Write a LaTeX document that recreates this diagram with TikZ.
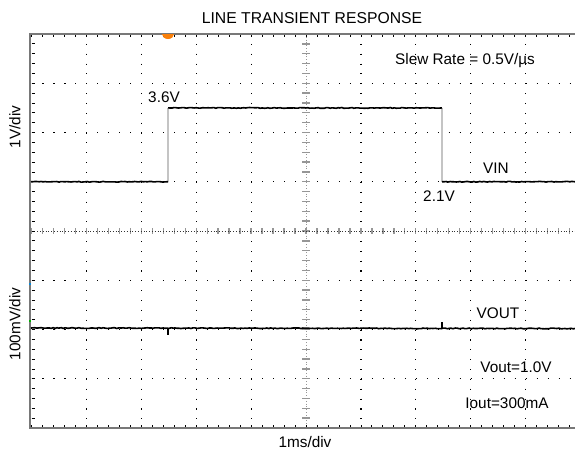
\documentclass[tikz,border=0pt]{standalone}
\usepackage{fontspec}
\setmainfont{Liberation Sans}
\usetikzlibrary{decorations.pathmorphing}
\definecolor{framegray}{RGB}{120,120,120}
\definecolor{edgegray}{RGB}{196,196,196}
\definecolor{tickgray}{RGB}{150,150,150}
\definecolor{trigorange}{RGB}{250,128,10}

\begin{document}
\begin{tikzpicture}[x=0.75pt, y=-0.75pt,
    frame/.style={framegray, line width=1.5pt},
    hdots/.style={black, line width=0.9pt, dash pattern=on 0.8pt off 7.435pt},
    vdots/.style={black, line width=0.9pt, dash pattern=on 0.8pt off 6.59pt},
    cdots/.style={black!80, line width=0.7pt, dash pattern=on 0.7pt off 1.4pt},
    tick/.style={black, line width=0.6pt},
    ctick/.style={tickgray, line width=1pt},
    trace/.style={black, line width=1.2pt, decorate, decoration={random steps, segment length=1.5pt, amplitude=0.3pt}},
    spike/.style={black, line width=0.9pt},
    edge/.style={edgegray, line width=1.2pt},
    lbl/.style={inner sep=0pt, font=\fontsize{11.5}{13}\selectfont}]
    % picture size
    \useasboundingbox (0,0) rectangle (575,451);
    \fill[white] (0,0) rectangle (575,451);

    % grid lines
    \foreach \i in {1,2,3,4,6,7,8,9}
        \draw[vdots] ({31.5+\i*54.9},34) -- ({31.5+\i*54.9},428);
    \foreach \j in {1,2,3,5,6,7}
        \draw[hdots] (31.5,{34+\j*49.25}) -- (575,{34+\j*49.25});

    % centre axes with sub-division ticks
    \foreach \k in {0,...,49}
        \draw[ctick] ({31.5+\k*10.98},228) -- ++(0,6);
    \foreach \k in {0,...,40}
        \draw[ctick] (302,{34+\k*9.85}) -- ++(8,0);
    \draw[cdots] (31.5,231) -- (575,231);
    \draw[cdots, tickgray] (306,34) -- (306,428);

    % ticks along the frame
    \foreach \k in {0,...,49} {
        \draw[tick] ({31.5+\k*10.98},34) -- ++(0,3);
        \draw[tick] ({31.5+\k*10.98},428) -- ++(0,-3);
    }
    \foreach \k in {0,...,40}
        \draw[tick] (31.5,{34+\k*9.85}) -- ++(3,0);

    % frame
    \draw[frame] (575,34) -- (30,34) -- (30,428) -- (575,428);

    % channel markers
    \fill[trigorange] (162,34) arc[start angle=180, end angle=0, x radius=6, y radius=5];
    \fill[cyan!70!blue] (29,283) rectangle ++(2,2);
    \fill[green!70!black] (29,320) rectangle ++(2,2);

    % VIN trace
    \draw[edge] (168,181.75) -- (168,107.9);
    \draw[edge] (442,107.9) -- (442,181.75);
    \draw[trace] (31,181.75) -- (168,181.75);
    \draw[trace] (168,107.9) -- (442,107.9);
    \draw[trace] (442,181.75) -- (575,181.75);

    % VOUT trace
    \draw[trace] (31,328) -- (575,328.5);
    \draw[spike] (168,328) -- (168,335);
    \draw[spike] (442,328) -- (442,322);

    % texts
    \node[lbl, font=\fontsize{11.8}{14}\selectfont] (title) at (312,18) {LINE TRANSIENT RESPONSE};
    \node[lbl] (slew) at (465,61) {Slew Rate = 0.5V/µs};
    \node[lbl] (vinhi) at (164,97) {3.6V};
    \node[lbl] (vinlo) at (439,196) {2.1V};
    \node[lbl] (vin) at (496,168) {VIN};
    \node[lbl] (vout) at (498,313) {VOUT};
    \node[lbl] (voutset) at (516,367) {Vout=1.0V};
    \node[lbl] (iout) at (507,403) {Iout=300mA};
    \node[lbl] (xscale) at (305,442) {1ms/div};
    \node[lbl, rotate=90] (vinscale) at (15,127) {1V/div};
    \node[lbl, rotate=90] (voutscale) at (15,324) {100mV/div};
\end{tikzpicture}
\end{document}
